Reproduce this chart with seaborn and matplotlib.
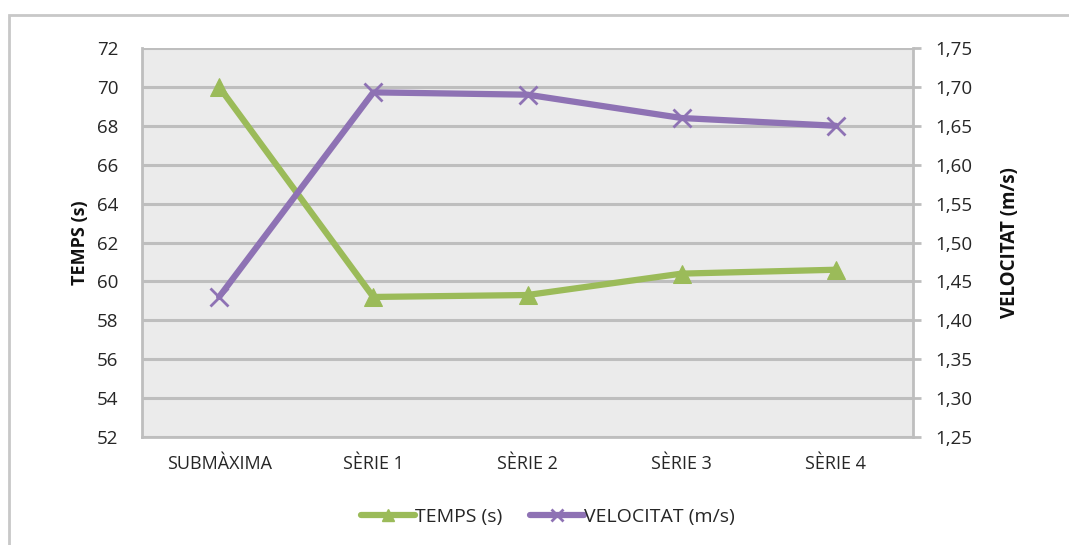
import numpy as np
import pandas as pd
import seaborn as sns
import matplotlib.pyplot as plt
from matplotlib.lines import Line2D
from matplotlib.patches import Rectangle
from matplotlib.ticker import FuncFormatter

# data
series = ['SUBMÀXIMA', 'SÈRIE 1', 'SÈRIE 2', 'SÈRIE 3', 'SÈRIE 4']
temps = [70.0, 59.2, 59.3, 60.4, 60.6]
velocitat = [1.43, 1.693, 1.69, 1.66, 1.65]

df = pd.DataFrame({'serie': series, 'temps': temps, 'velocitat': velocitat})
df['pos'] = np.arange(len(series))

green = '#9BBB59'
purple = '#8E72B4'
grid_c = '#BEBEBE'
txt_c = '#262626'

sns.set_style('white')
plt.rcParams['font.family'] = ['Open Sans', 'DejaVu Sans']

fig = plt.figure(figsize=(10.69, 5.45), dpi=100)
ax = fig.add_axes([142 / 1069, 1 - 437 / 545, (913 - 142) / 1069, (437 - 48) / 545])
ax.set_facecolor('#EBEBEB')
ax2 = ax.twinx()

sns.lineplot(data=df, x='pos', y='temps', ax=ax, color=green, lw=4.5, sort=False,
             marker='^', markersize=13, markeredgecolor=green, zorder=3)
sns.lineplot(data=df, x='pos', y='velocitat', ax=ax2, color=purple, lw=4.5, sort=False,
             marker='x', markersize=13, markeredgewidth=2, markeredgecolor=purple, zorder=3)

ax.set_xlim(-0.5, len(series) - 0.5)
ax.set_ylim(52, 72)
ax.set_yticks(np.arange(52, 73, 2))
ax2.set_ylim(1.25, 1.75)
ax2.set_yticks(np.arange(1.25, 1.76, 0.05))
ax2.yaxis.set_major_formatter(FuncFormatter(lambda v, p: f'{v:.2f}'.replace('.', ',')))

ax.set_xticks(df['pos'])
ax.set_xticklabels(series)
ax.yaxis.grid(True, color=grid_c, lw=2.2)
ax.set_axisbelow(True)

for a in (ax, ax2):
    for s in a.spines.values():
        s.set_visible(False)
for a, side in ((ax, 'left'), (ax, 'bottom'), (ax2, 'right')):
    a.spines[side].set_visible(True)
    a.spines[side].set_color(grid_c)
    a.spines[side].set_linewidth(2)

ax.tick_params(axis='y', length=0, labelsize=13.5, labelcolor=txt_c, pad=17)
ax.tick_params(axis='x', length=0, labelsize=13, labelcolor=txt_c, pad=13)
ax2.tick_params(axis='y', length=6, width=2, color=grid_c, labelsize=13.5,
                labelcolor=txt_c, pad=10)

ax.set_xlabel('')
ax.set_ylabel('TEMPS (s)', fontsize=13, fontweight='bold', labelpad=6, color='#111111')
ax2.set_ylabel('VELOCITAT (m/s)', fontsize=13.5, fontweight='bold', rotation=90,
               labelpad=20, color='#111111')

handles = [Line2D([], [], color=green, lw=4.5, marker='^', markersize=9),
           Line2D([], [], color=purple, lw=4.5, marker='x', markersize=9, markeredgewidth=2)]
fig.legend(handles, ['TEMPS (s)', 'VELOCITAT (m/s)'], loc='center',
           bbox_to_anchor=(548 / 1069, 1 - 517 / 545), ncol=2, frameon=False,
           fontsize=14, handlelength=2.8, handletextpad=0.0, columnspacing=1.4)
for t in fig.legends[0].get_texts():
    t.set_color(txt_c)

# outer chart frame
fig.patches.append(Rectangle((9 / 1069, -0.1), 1.2, 1 - 15 / 545 + 0.1,
                             transform=fig.transFigure, fill=False,
                             edgecolor='#C8C8C8', lw=2))

fig.savefig('out.png', dpi=100)
